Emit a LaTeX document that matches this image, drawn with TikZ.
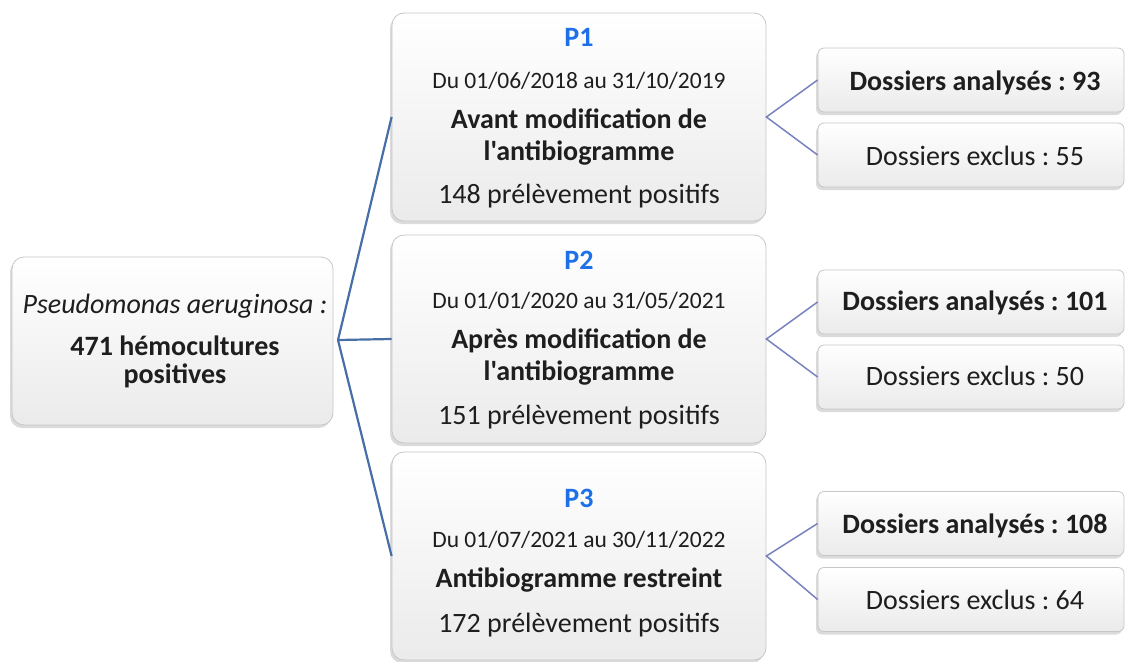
\documentclass[tikz,border=0pt]{standalone}
\usepackage{fontspec}
\setmainfont{Carlito}[Ligatures=TeXOff]
\usetikzlibrary{shadows}
\definecolor{pblue}{RGB}{30,112,232}
\definecolor{lineblue}{RGB}{72,110,168}
\definecolor{linepurple}{RGB}{120,130,190}
\definecolor{txtcol}{RGB}{30,30,30}
\frenchspacing
\tikzset{
  box/.style={draw=gray!45, line width=0.8pt, rounded corners=12pt,
    top color=white, bottom color=gray!16, inner sep=0pt,
    drop shadow={shadow xshift=-2pt, shadow yshift=-3pt, opacity=0.35, fill=gray!80}},
  midbox/.style={box, minimum width=374pt, minimum height=208pt},
  subbox/.style={box, rounded corners=6pt, minimum width=306pt, minimum height=64pt},
  big/.style={anchor=base, inner sep=0pt, text=txtcol, font=\fontsize{28}{34}\selectfont},
  bigb/.style={big, font=\fontsize{28}{34}\selectfont\bfseries},
  date/.style={anchor=base, inner sep=0pt, text=txtcol, font=\fontsize{23.5}{28}\selectfont},
  ptitle/.style={anchor=base, inner sep=0pt, text=pblue, font=\fontsize{28}{34}\selectfont\bfseries},
  mainlink/.style={draw=lineblue, line width=2.2pt},
  sublink/.style={draw=linepurple, line width=1.5pt},
}
\begin{document}
\begin{tikzpicture}[x=1pt, y=-1pt]
\useasboundingbox (0,0) rectangle (1126,661);
% boxes
\node[box, minimum width=321pt, minimum height=168pt] (root) at (172.5,341) {};
\node[midbox] (p1) at (579,117) {};
\node[midbox] (p2) at (579,339) {};
\node[midbox] (p3) at (579,556) {};
\node[subbox] (a1) at (971,80) {};
\node[subbox] (e1) at (971,155) {};
\node[subbox] (a2) at (971,302) {};
\node[subbox] (e2) at (971,377) {};
\node[subbox] (a3) at (971,523.5) {};
\node[subbox] (e3) at (971,599.5) {};
% root text
\node[big, font=\fontsize{28}{34}\selectfont\itshape] (rt1) at (175,313) {Pseudomonas aeruginosa :};
\node[bigb] (rt2) at (175,355) {471 hémocultures};
\node[bigb] (rt3) at (175,383) {positives};
% P1
\node[ptitle] (p1t) at (579,47) {P1};
\node[date] (p1d) at (579,88) {Du 01/06/2018 au 31/10/2019};
\node[bigb] (p1a) at (579,128) {Avant modification de};
\node[bigb] (p1b) at (579,160) {l'antibiogramme};
\node[big] (p1c) at (579,203) {148 prélèvement positifs};
% P2
\node[ptitle] (p2t) at (579,269) {P2};
\node[date] (p2d) at (579,308) {Du 01/01/2020 au 31/05/2021};
\node[bigb] (p2a) at (579,348) {Après modification de};
\node[bigb] (p2b) at (579,380) {l'antibiogramme};
\node[big] (p2c) at (579,424) {151 prélèvement positifs};
% P3
\node[ptitle] (p3t) at (579,507) {P3};
\node[date] (p3d) at (579,547) {Du 01/07/2021 au 30/11/2022};
\node[bigb] (p3a) at (579,587) {Antibiogramme restreint};
\node[big] (p3c) at (579,632) {172 prélèvement positifs};
% sub texts
\node[bigb] (a1t) at (975,90) {Dossiers analysés : 93};
\node[big] (e1t) at (975,165) {Dossiers exclus : 55};
\node[bigb] (a2t) at (975,310) {Dossiers analysés : 101};
\node[big] (e2t) at (975,385) {Dossiers exclus : 50};
\node[bigb] (a3t) at (975,533) {Dossiers analysés : 108};
\node[big] (e3t) at (975,609) {Dossiers exclus : 64};
% connectors
\coordinate (j) at (338,340);
\draw[mainlink] (j) -- (p1.west);
\draw[mainlink] (j) -- (p2.west);
\draw[mainlink] (j) -- (p3.west);
\draw[sublink] (a1.west) -- (p1.east) -- (e1.west);
\draw[sublink] (a2.west) -- (p2.east) -- (e2.west);
\draw[sublink] (a3.west) -- (p3.east) -- (e3.west);
\end{tikzpicture}
\end{document}
